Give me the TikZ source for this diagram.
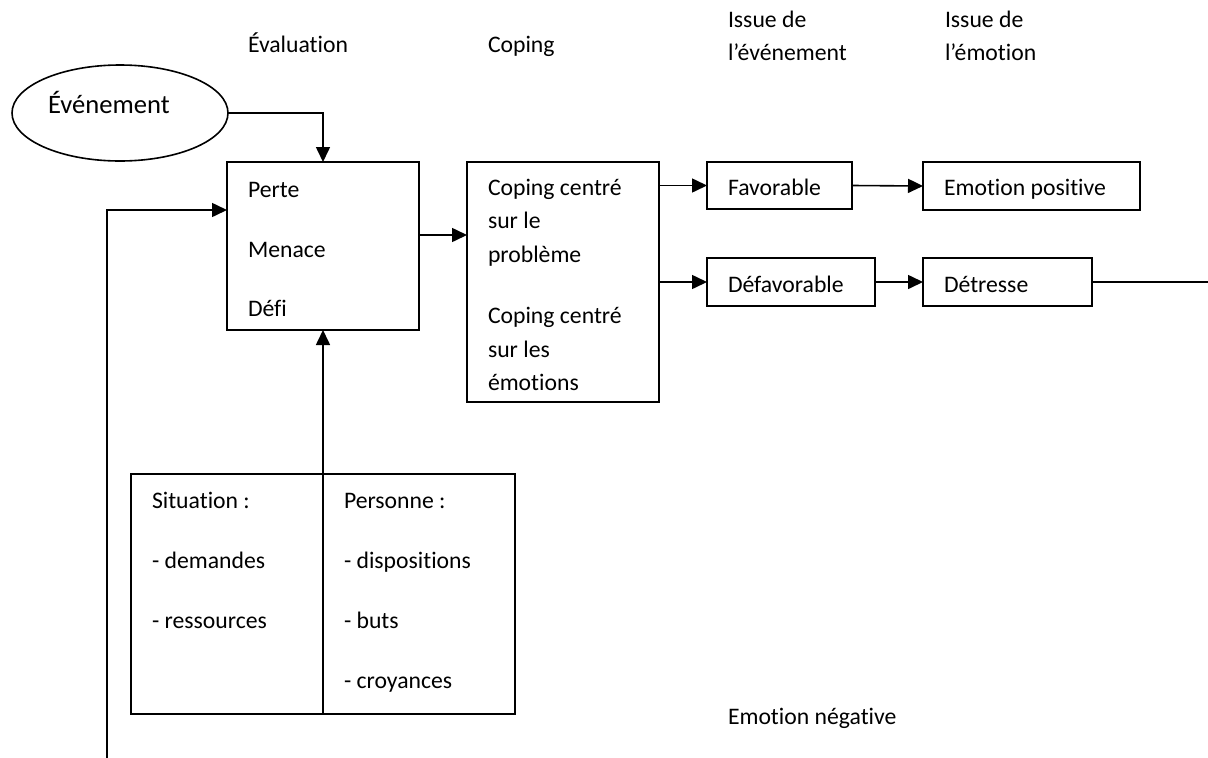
\documentclass[tikz,border=0pt]{standalone}
\usepackage{fontspec}
\setmainfont{Carlito}[Ligatures={NoCommon}]
\usetikzlibrary{shapes.geometric,arrows.meta}
\tikzset{
  box/.style={draw, rectangle, line width=1.6pt, inner sep=0pt, outer sep=0pt},
  txt/.style={anchor=base west, inner sep=0pt, outer sep=0pt, font=\fontsize{23.7}{28}\selectfont},
  conn/.style={line width=1.6pt},
  arr/.style={conn, -{Triangle[length=15pt,width=14pt]}}
}
\begin{document}
\begin{tikzpicture}[x=1pt,y=-1pt]
\useasboundingbox (0,0) rectangle (1208,758);
% column headers
\node[txt] (hEval) at (248,52) {Évaluation};
\node[txt] (hCop) at (488,52) {Coping};
\node[txt] (hIe1) at (728,27) {Issue de};
\node[txt] (hIe2) at (728,60) {l’événement};
\node[txt] (hIm1) at (945,27) {Issue de};
\node[txt] (hIm2) at (945,60) {l’émotion};
% event ellipse
\node[draw, ellipse, line width=1.6pt, minimum width=216pt, minimum height=96pt, inner sep=0pt, outer sep=0pt] (evt) at (120,113) {};
\node[txt, font=\fontsize{26.6}{30}\selectfont] (evtL) at (48,113) {Événement};
% boxes
\node[box, minimum width=192pt, minimum height=168pt] (eval) at (323,246) {};
\node[box, minimum width=192pt, minimum height=240pt] (cop) at (563,282) {};
\node[box, minimum width=145pt, minimum height=47pt] (fav) at (779.5,185.5) {};
\node[box, minimum width=168pt, minimum height=48pt] (defav) at (791,282) {};
\node[box, minimum width=217pt, minimum height=48pt] (epos) at (1031.5,186) {};
\node[box, minimum width=169pt, minimum height=48pt] (detr) at (1007.5,282) {};
\node[box, minimum width=384pt, minimum height=240pt] (sit) at (323,594) {};
% texts in boxes
\node[txt] (tPerte) at (248,197) {Perte};
\node[txt] (tMen) at (248,257) {Menace};
\node[txt] (tDefi) at (248,316) {Défi};
\node[txt] (tC1) at (488,195) {Coping centré};
\node[txt] (tC2) at (488,228) {sur le};
\node[txt] (tC3) at (488,262) {problème};
\node[txt] (tC4) at (488,323) {Coping centré};
\node[txt] (tC5) at (488,357) {sur les};
\node[txt] (tC6) at (488,390) {émotions};
\node[txt] (tFav) at (728,195) {Favorable};
\node[txt] (tDef) at (728,292) {Défavorable};
\node[txt] (tEpos) at (944,195) {Emotion positive};
\node[txt] (tDetr) at (944,292) {Détresse};
\node[txt] (tSit) at (152,508) {Situation :};
\node[txt] (tDem) at (152,568) {- demandes};
\node[txt] (tRes) at (152,628) {- ressources};
\node[txt] (tPer) at (344,508) {Personne :};
\node[txt] (tDis) at (344,568) {- dispositions};
\node[txt] (tBut) at (344,628) {- buts};
\node[txt] (tCro) at (344,688) {- croyances};
\node[txt] (tNeg) at (728,724) {Emotion négative};
% free ends
\coordinate (fb) at (107,760);
\coordinate (rend) at (1210,282);
% connectors
\draw[arr] (evt.east) -| (eval.north);
\draw[arr] (fb) |- ([yshift=36pt]eval.west);
\draw[arr] ([yshift=11pt]eval.east) -- ([yshift=47pt]cop.west);
\draw[arr] (cop.east |- fav.west) -- (fav.west);
\draw[arr] (cop.east) -- (defav.west);
\draw[arr] (fav.east) -- (epos.west);
\draw[arr] (defav.east) -- (detr.west);
\draw[conn] (detr.east) -- (rend);
\draw[conn] (sit.north) -- (sit.south);
\draw[arr] (sit.north) -- (eval.south);
\end{tikzpicture}
\end{document}
